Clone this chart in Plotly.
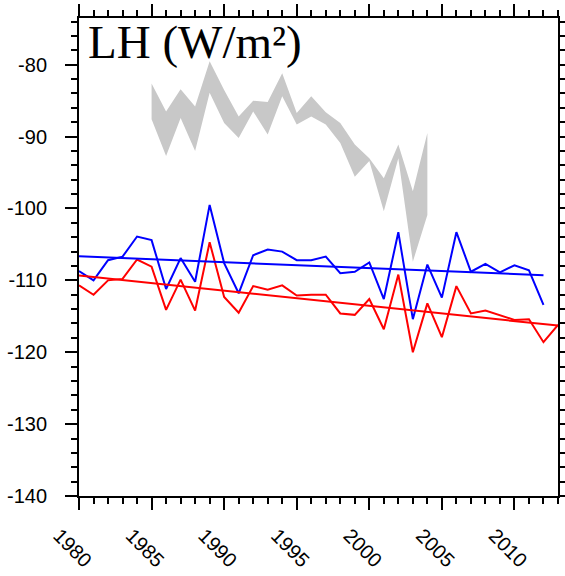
import numpy as np
import plotly.graph_objects as go

# Latent heat flux time series (W/m^2)
years_red = list(range(1980, 2014))
lh_red = [-110.7, -112.0, -110.0, -109.8, -107.1, -108.1, -114.1, -109.9, -114.2, -104.7,
          -112.3, -114.5, -110.8, -111.3, -110.7, -112.1, -112.0, -112.0, -114.6, -114.8,
          -112.6, -116.8, -109.2, -120.0, -113.2, -117.9, -110.8, -114.6, -114.2, -114.9,
          -115.5, -115.4, -118.6, -116.2]

years_blue = list(range(1980, 2013))
lh_blue = [-108.7, -110.0, -107.2, -106.7, -103.9, -104.4, -111.2, -106.9, -110.2, -99.5,
           -107.6, -111.8, -106.5, -105.7, -106.0, -107.2, -107.2, -106.7, -109.0, -108.8,
           -107.5, -112.6, -103.3, -115.4, -107.8, -112.4, -103.3, -108.8, -107.7, -108.9,
           -107.9, -108.6, -113.4]

# Envelope (upper/lower bounds) of the reference range
years_band = list(range(1985, 2005))
band_upper = [-82.6, -86.5, -83.4, -85.8, -79.5, -83.5, -87.2, -85.0, -85.2, -81.2,
              -86.7, -84.4, -86.6, -88.1, -91.1, -93.0, -95.8, -91.1, -97.6, -89.5]
band_lower = [-87.6, -92.7, -87.4, -92.0, -83.9, -88.1, -90.2, -86.5, -89.7, -84.4,
              -88.3, -87.2, -88.3, -90.9, -95.6, -93.4, -100.4, -93.0, -107.4, -100.9]

x_ticks = [1980, 1985, 1990, 1995, 2000, 2005, 2010]
y_ticks = [-140, -130, -120, -110, -100, -90, -80]


def trend(xs, ys):
    k, b = np.polyfit(xs, ys, 1)
    return [k * x + b for x in xs]


fig = go.Figure()

fig.add_trace(go.Scatter(x=years_band, y=band_upper, mode="lines",
                         line=dict(width=0, color="rgb(200,200,200)"),
                         hoverinfo="skip", showlegend=False))
fig.add_trace(go.Scatter(x=years_band, y=band_lower, mode="lines",
                         line=dict(width=0, color="rgb(200,200,200)"),
                         fill="tonexty", fillcolor="rgb(200,200,200)",
                         hoverinfo="skip", showlegend=False))

fig.add_trace(go.Scatter(x=years_blue, y=lh_blue, mode="lines",
                         line=dict(color="#0000ff", width=2), showlegend=False))
fig.add_trace(go.Scatter(x=years_red, y=lh_red, mode="lines",
                         line=dict(color="#ff0000", width=2), showlegend=False))
fig.add_trace(go.Scatter(x=years_blue, y=trend(years_blue, lh_blue), mode="lines",
                         line=dict(color="#0000ff", width=2), showlegend=False))
fig.add_trace(go.Scatter(x=years_red, y=trend(years_red, lh_red), mode="lines",
                         line=dict(color="#ff0000", width=2), showlegend=False))

axis_common = dict(
    showline=True, linecolor="black", linewidth=2, automargin=False,
    mirror="allticks", ticks="outside", ticklen=12, tickwidth=2, tickcolor="black",
    showgrid=False, zeroline=False,
    tickfont=dict(family="Liberation Sans, Arial, sans-serif", size=20, color="black"),
)

fig.update_xaxes(
    range=[1980, 2013], tickvals=x_ticks, ticktext=[str(v) for v in x_ticks],
    tickangle=45, ticklabelshift=-20, ticklabelstandoff=6,
    minor=dict(dtick=1, ticks="outside", ticklen=6, tickwidth=1.5, tickcolor="black"),
    **axis_common,
)
fig.update_yaxes(
    range=[-140, -73.5], tickvals=y_ticks, ticktext=[str(v) for v in y_ticks],
    ticklabelstandoff=14,
    minor=dict(dtick=2, ticks="outside", ticklen=6, tickwidth=1.5, tickcolor="black"),
    **axis_common,
)

fig.add_annotation(
    text="LH (W/m²)", xref="paper", yref="paper", x=0.014, y=1.008,
    xanchor="left", yanchor="top", showarrow=False,
    font=dict(family="Liberation Serif, Times New Roman, serif", size=47, color="black"),
)

fig.update_layout(
    width=565, height=576,
    margin=dict(l=79, r=7, t=18, b=80),
    paper_bgcolor="white", plot_bgcolor="white",
)

fig.write_html("out.html")
